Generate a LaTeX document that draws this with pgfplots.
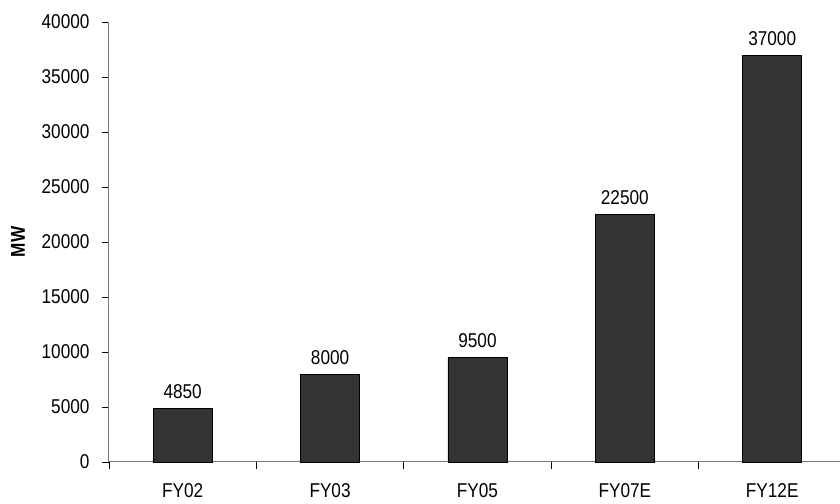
\documentclass[border=0pt]{standalone}
\usepackage{fontspec}
\setmainfont[FakeStretch=0.86]{Liberation Sans}
\usepackage{pgfplots}
\pgfplotsset{compat=1.18}
\definecolor{barfill}{HTML}{333333}
\definecolor{axgray}{HTML}{777777}
\begin{document}
\begin{tikzpicture}
\useasboundingbox (-109bp,-42bp) rectangle (731bp,462bp);
\begin{axis}[
  at={(0,0)}, anchor=south west,
  scale only axis,
  width=731bp, height=440bp,
  font=\fontsize{20bp}{24bp}\selectfont,
  xmin=-0.5, xmax=4.46,
  ymin=0, ymax=40000,
  axis x line*=bottom, axis y line*=left,
  axis line style={axgray, line width=1bp},
  ytick={0,5000,...,40000},
  /pgf/number format/assume math mode=true,
  /pgf/number format/set thousands separator={},
  scaled y ticks=false,
  tick align=outside,
  major tick length=7bp,
  minor tick length=7bp,
  tick style={black, line width=0.8bp},
  xtick={0,1,2,3,4},
  xticklabels={FY02,FY03,FY05,FY07E,FY12E},
  major x tick style={draw=none},
  minor xtick={-0.5,0.5,1.5,2.5,3.5},
  xticklabel style={yshift=-11bp},
  yticklabel style={xshift=-9bp},
  ylabel={\bfseries MW},
  ylabel style={at={(axis description cs:-0.1245,0.5)}, anchor=center, rotate=0},
  ybar, bar width=59bp,
  nodes near coords,
  nodes near coords style={anchor=south, yshift=6bp, /pgf/number format/assume math mode=true, /pgf/number format/set thousands separator={}},
  clip=false,
]
\addplot[fill=barfill, draw=black, line width=0.6bp] coordinates {(0,4850) (1,8000) (2,9500) (3,22500) (4,37000)};
\end{axis}
\end{tikzpicture}
\end{document}
